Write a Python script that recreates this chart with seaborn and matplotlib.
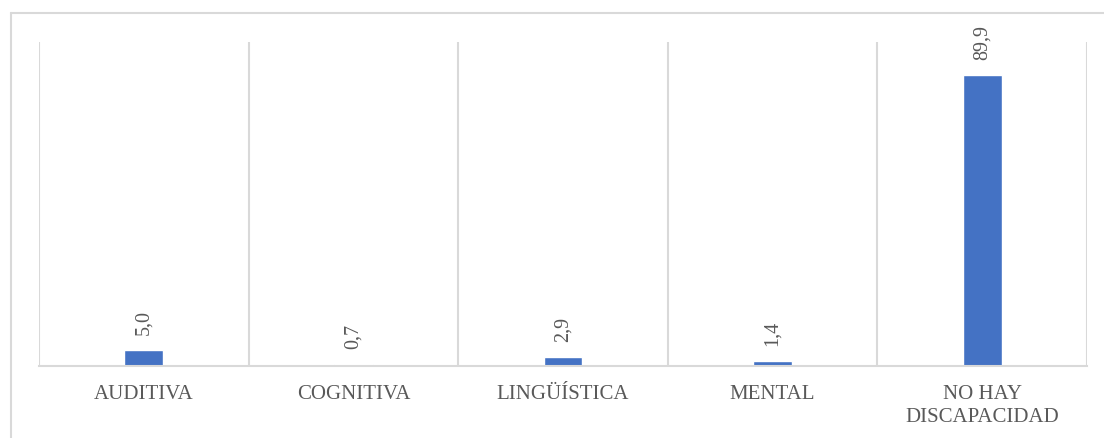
import matplotlib
matplotlib.use("Agg")
import matplotlib.pyplot as plt
import seaborn as sns
import pandas as pd
from matplotlib.lines import Line2D

categories = ["AUDITIVA", "COGNITIVA", "LINGÜÍSTICA", "MENTAL", "NO HAY\nDISCAPACIDAD"]
values = [5.0, 0.7, 2.9, 1.4, 89.9]
value_labels = ["5,0", "0,7", "2,9", "1,4", "89,9"]

sns.set_theme(style="white")
plt.rcParams['font.family'] = ['Liberation Serif', 'DejaVu Serif']

df = pd.DataFrame({"cat": categories, "val": values})

fig = plt.figure(figsize=(11.04, 4.39), dpi=100)
ax = fig.add_axes([39/1104, 72/439, 1048/1104, 324/439])

sns.barplot(data=df, x="cat", y="val", color="#4472C4", width=0.186, ax=ax, saturation=1)

ax.set_ylim(0, 100)
ax.set_xlim(-0.5, len(categories) - 0.5)
for b in range(len(categories) + 1):
    ax.axvline(b - 0.5, color="#D9D9D9", lw=1.5, zorder=0)

for p, lab in zip(ax.patches, value_labels):
    ax.annotate(lab, (p.get_x() + p.get_width() / 2, p.get_height()),
                xytext=(0, 11.5), textcoords="offset points", rotation=90,
                ha="center", va="bottom", fontsize=14.5, color="#595959")

for s in ["top", "left", "right"]:
    ax.spines[s].set_visible(False)
ax.spines["bottom"].set_color("#D9D9D9")
ax.spines["bottom"].set_linewidth(1.5)
ax.set_yticks([])
ax.set_xlabel("")
ax.set_ylabel("")
ax.tick_params(axis="x", length=0, pad=13, labelsize=15, labelcolor="#595959")
for t in ax.get_xticklabels():
    t.set_linespacing(1.3)

x0, y0 = 10.5/1104, 1 - 13.5/439
fig.add_artist(Line2D([x0, x0], [0, y0], transform=fig.transFigure, color="#D9D9D9", lw=1.5))
fig.add_artist(Line2D([x0, 1], [y0, y0], transform=fig.transFigure, color="#D9D9D9", lw=1.5))

fig.savefig("out.png", dpi=100)
